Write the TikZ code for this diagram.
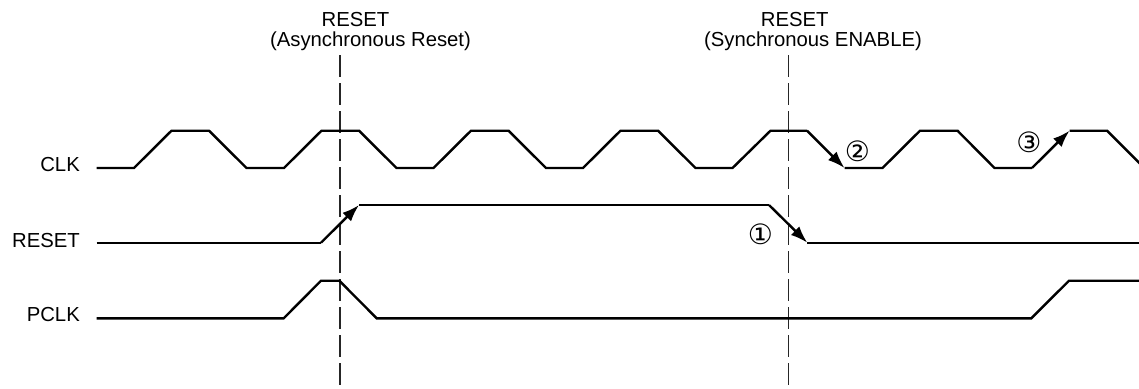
\documentclass[tikz,border=0pt]{standalone}
\usepackage{fontspec}
\setmainfont{Liberation Sans}
\newfontfamily\symfont{DejaVu Sans}
\usetikzlibrary{arrows.meta}
\begin{document}
\begin{tikzpicture}[x=1pt,y=-1pt,
  sig/.style={line width=2.4pt, line join=miter},
  guide/.style={line width=1.1pt, dash pattern=on 21.5pt off 6.5pt, gray!30!black},
  lbl/.style={font=\fontsize{20.3}{22}\selectfont, inner sep=0pt},
  num/.style={font=\symfont\fontsize{28}{30}\selectfont, inner sep=0pt},
  arr/.style={-{Latex[length=17pt,width=12pt]}}]
\useasboundingbox (0,0) rectangle (1139,388);
% guides
\draw[guide] (340,55) -- (340,388);
\draw[guide] (788.3,55) -- (788.3,388);
% top labels
\node[lbl, anchor=base] (t1a) at (355.5,26) {RESET};
\node[lbl, anchor=base] (t1b) at (370.5,46) {(Asynchronous Reset)};
\node[lbl, anchor=base] (t2a) at (794.7,26) {RESET};
\node[lbl, anchor=base] (t2b) at (813,46) {(Synchronous ENABLE)};
% left labels
\node[lbl, anchor=base east] (lclk) at (80,171.7) {CLK};
\node[lbl, anchor=base east] (lrst) at (80,247.7) {RESET};
\node[lbl, anchor=base east] (lpclk) at (80,321.7) {PCLK};
% CLK
\draw[sig] (96.7,168) -- (134,168) -- (171.5,130.7) -- (209,130.7) -- (246.5,168)
  -- (284,168) -- (321.5,130.7) -- (359,130.7) -- (396.5,168)
  -- (433.5,168) -- (471,130.7) -- (508.5,130.7) -- (546,168)
  -- (583,168) -- (620.5,130.7) -- (658,130.7) -- (695.5,168)
  -- (732.5,168) -- (770.5,130.7) -- (807,130.7);
\draw[sig, arr] (807,130.7) -- (844.5,168);
\draw[sig] (844.5,168) -- (882.5,168) -- (920,130.7) -- (957.5,130.7) -- (994.5,168) -- (1032,168);
\draw[sig, arr] (1032,168) -- (1069.5,130.7);
\draw[sig] (1069.5,130.7) -- (1107,130.7) -- (1144.3,168);
% RESET
\draw[sig] (96.7,242.7) -- (321,242.7);
\draw[sig, arr] (321,242.7) -- (359,205);
\draw[sig] (359,205) -- (769,205);
\draw[sig, arr] (769,205) -- (807.3,242.7);
\draw[sig] (807.3,242.7) -- (1139,242.7);
% PCLK
\draw[sig] (96.7,318.3) -- (283.7,318.3) -- (321,280.7) -- (339.3,280.7) -- (376.7,318.3)
  -- (1031.3,318.3) -- (1069,280.7) -- (1139,280.7);
% numbers
\node[num] (n1) at (760.5,234) {①};
\node[num] (n2) at (857.3,151) {②};
\node[num] (n3) at (1028.8,142) {③};
\end{tikzpicture}
\end{document}
